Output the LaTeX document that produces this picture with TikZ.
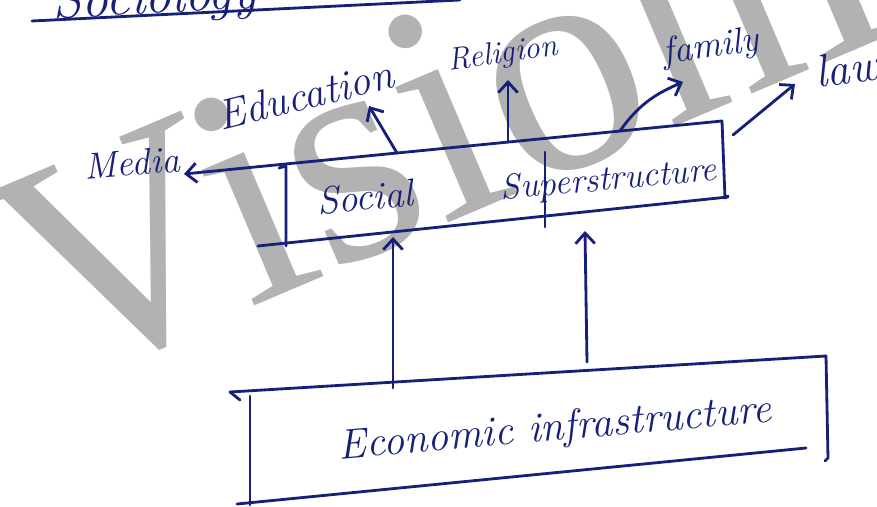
\documentclass[tikz,border=0pt]{standalone}
\usepackage{fontspec}
\newfontfamily\markfont{Liberation Serif}
\usetikzlibrary{arrows.meta}
\definecolor{ink}{RGB}{22,32,120}
\tikzset{
	pen/.style={draw=ink, line width=1.6pt, line cap=round, line join=round},
	barb/.style={-{Straight Barb[length=6pt,width=11pt]}},
	hand/.style={text=ink, inner sep=0pt, font=\fontsize{#1}{#1}\selectfont\itshape},
}

\begin{document}
\begin{tikzpicture}[x=0.02cm, y=-0.02cm]
			%%%%% START %%%%%
			\useasboundingbox (0, 0) rectangle (877, 507);
			\clip (0, 0) rectangle (877, 507);
			\fill[white] (0, 0) rectangle (877, 507);
			
			\node[rotate=23, anchor=base west, inner sep=0pt, text=black!30, font=\markfont\fontsize{180}{180}\selectfont] (mark) at (55, 390) {VisionIAS};
			
			\node[hand=30, anchor=base east, rotate=3] (head) at (258, 8) {Sociology};
			\draw[pen] (32, 21) -- (460, 0);
			
			% labels round the superstructure
			\node[hand=21, rotate=5] (media) at (132, 163) {Media};
			\node[hand=24, rotate=14] (edu) at (305, 95) {Education};
			\node[hand=18, rotate=8] (rel) at (503, 55) {Religion};
			\node[hand=21, rotate=8] (fam) at (711, 48) {family};
			\node[hand=26, rotate=8] (law) at (847, 68) {law};
			
			% social superstructure
			\coordinate (sTR) at (722, 121);
			\coordinate (sBR) at (725, 198);
			\coordinate (sBL) at (258, 246);
			\coordinate (mediaTip) at (184, 174);
			\draw[pen, barb] (sTR) -- (mediaTip);
			\draw[pen] (sTR) -- (sBR) -- ++(3, -2);
			\draw[pen] (sBL) -- (728, 197);
			\draw[pen] (279, 168) -- (286, 166) -- (286, 246);
			\draw[pen] (545, 152) -- (545, 227);
			\node[hand=22, rotate=5] (social) at (365, 197) {Social};
			\node[hand=20, rotate=5] (super) at (609, 181) {Superstructure};
			
			\draw[pen, barb] (397, 153) -- (369, 106);
			\draw[pen, barb] (508, 142) -- (508, 80);
			\draw[pen, barb] (620, 131) .. controls (640, 102) and (660, 92) .. (683, 82);
			\draw[pen, barb] (733, 135) -- (795, 84);
			
			% economic infrastructure
			\coordinate (eTL) at (230, 392);
			\coordinate (eTR) at (826, 356);
			\draw[pen] (eTL) -- ++(10, 8);
			\draw[pen] (eTL) -- (eTR) -- (828, 458) -- ++(-3, 3);
			\draw[pen] (250, 396) -- (250, 505);
			\draw[pen] (237, 504) -- (806, 448);
			\node[hand=24, rotate=5] (econ) at (555, 430) {Economic infrastructure};
			
			\draw[pen, barb] (393, 388) -- (393, 237);
			\draw[pen, barb] (587, 362) -- (585, 231);
			
			%%%%% END %%%%%
		\end{tikzpicture}
\end{document}
